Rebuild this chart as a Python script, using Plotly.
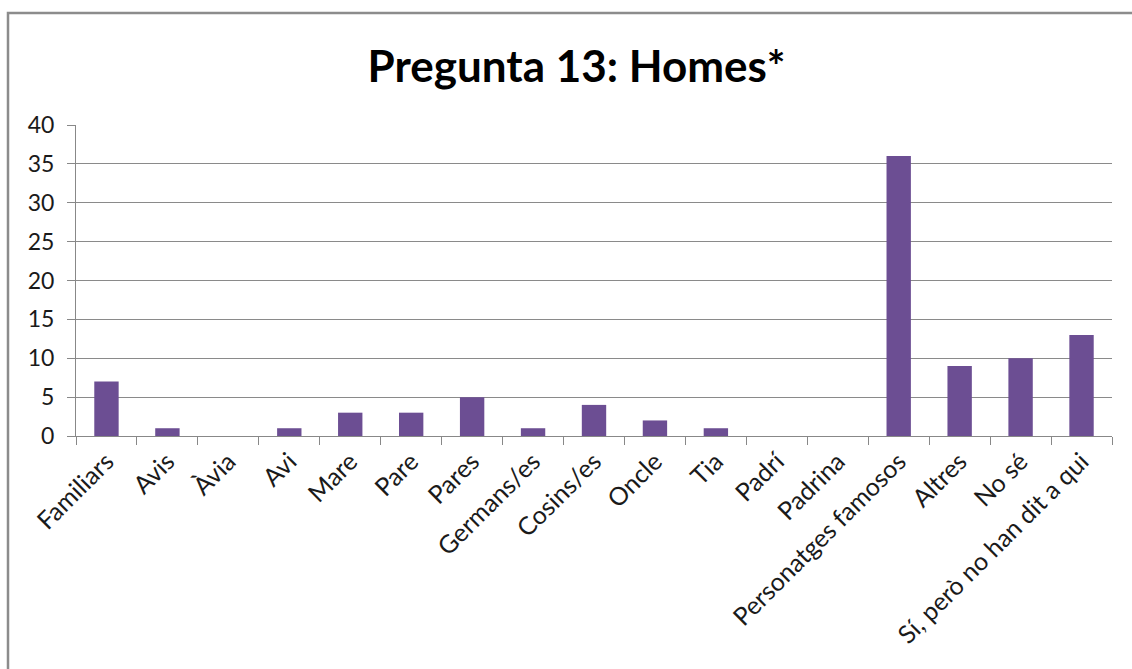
import plotly.graph_objects as go

categories = ["Familiars", "Avis", "Àvia", "Avi", "Mare", "Pare", "Pares", "Germans/es",
              "Cosins/es", "Oncle", "Tia", "Padrí", "Padrina", "Personatges famosos",
              "Altres", "No sé", "Sí, però no han dit a qui"]
values = [7, 1, 0, 1, 3, 3, 5, 1, 4, 2, 1, 0, 0, 36, 9, 10, 13]
y_ticks = [0, 5, 10, 15, 20, 25, 30, 35, 40]

W, H = 1132, 669
L, R, T, B = 76, 1112, 125, 436

def px(x):
    return (x - L) / (R - L)

def py(y):
    return (B - y) / (B - T)

fig = go.Figure(go.Bar(
    x=categories, y=values,
    marker=dict(color="#6c4e93", line=dict(width=0)),
    width=0.4,
))

fig.update_layout(
    width=W, height=H,
    margin=dict(l=L, r=W - R, t=T, b=H - B),
    paper_bgcolor="white", plot_bgcolor="white",
    font=dict(family="Lato, 'Open Sans', sans-serif", color="#000000"),
    showlegend=False,
    title=dict(text="<b>Pregunta 13: Homes*</b>", x=(366 + 787) / 2 / W, xanchor="center",
               y=1 - 67 / H, yanchor="middle",
               font=dict(size=44, family="Lato, sans-serif", color="#000000")),
    xaxis=dict(
        type="category", tickangle=-45, tickson="boundaries",
        ticks="outside", ticklen=8, tickcolor="#888888", tickwidth=1,
        showline=True, linecolor="#888888", linewidth=1,
        showgrid=False, tickfont=dict(size=25, color="#1a1a1a"),
        ticklabelstandoff=0,
        range=[-0.5, len(categories) - 0.5],
    ),
    yaxis=dict(
        range=[0, 40], tickvals=y_ticks, ticks="outside", ticklen=8,
        tickcolor="#888888", showline=True, linecolor="#888888", linewidth=1,
        showgrid=True, gridcolor="#8a8a8a", gridwidth=1, zeroline=False,
        tickfont=dict(size=23, color="#1a1a1a"), ticklabelstandoff=8,
    ),
    shapes=[dict(type="rect", xref="paper", yref="paper",
                 x0=px(8), x1=px(1145), y0=py(690), y1=py(13),
                 line=dict(color="#8c8c8c", width=2.5), layer="below")],
)

fig.write_html("out.html", config={"displayModeBar": False},
               post_script="document.body.style.margin='0';")
